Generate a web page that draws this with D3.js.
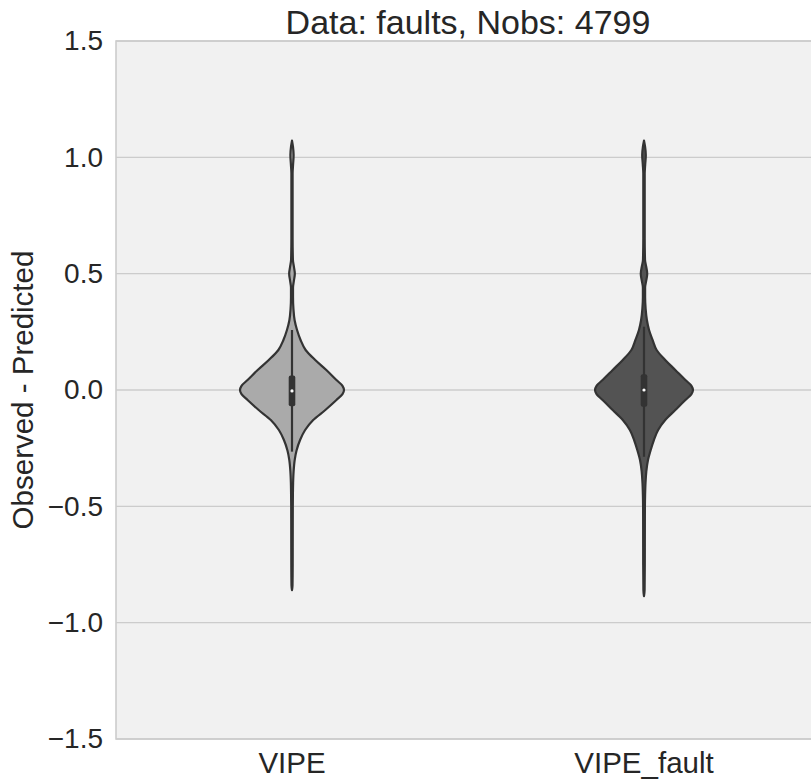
<!DOCTYPE html>
<html>
<head>
  <meta charset="utf-8" />
  <title>Violin plot: faults</title>
  <script src="https://cdn.jsdelivr.net/npm/d3@7/dist/d3.min.js"></script>
  <style>
    body { margin: 0; background: #ffffff; }
    text { font-family: "Liberation Sans", Arial, sans-serif; fill: #262626; }
  </style>
</head>
<body>
  <svg id="chart" width="811" height="782"></svg>

  <script>
    // categories and their fill colours
    const categories = ["VIPE", "VIPE_fault"];
    const fills = ["#aaaaaa", "#535353"];

    const yTicks = [-1.5, -1.0, -0.5, 0.0, 0.5, 1.0, 1.5];
    const titleText = "Data: faults, Nobs: 4799";
    const yLabel = "Observed - Predicted";

    // kernel density profile (value, relative density)
    const vipeValues = [-0.86, -0.84, -0.75, -0.6, -0.5, -0.45, -0.4, -0.35, -0.3, -0.26,
      -0.215, -0.172, -0.129, -0.086, -0.043, -0.018, 0, 0.018, 0.043, 0.086, 0.129, 0.172, 0.215,
      0.258, 0.3, 0.35, 0.4, 0.44, 0.47, 0.5, 0.53, 0.56, 0.65, 0.8, 0.93, 0.97, 1.01,
      1.045, 1.072];
    const vipeDensity = [0, 0.5, 0.7, 0.75, 0.8, 0.9, 1.1, 1.6, 2.7, 4.5,
      8, 13, 21, 33, 44, 50, 51.5, 50, 44, 34, 23, 13.5, 8.5,
      5, 2.6, 1.4, 1.0, 1.0, 1.9, 2.8, 1.9, 0.9, 0.6, 0.6, 0.6, 1.1, 1.6,
      1.0, 0];

    const faultValues = [-0.886, -0.86, -0.75, -0.6, -0.5, -0.45, -0.4, -0.35, -0.3, -0.26,
      -0.215, -0.172, -0.129, -0.086, -0.043, -0.018, 0, 0.018, 0.043, 0.086, 0.129, 0.172, 0.215,
      0.258, 0.3, 0.35, 0.4, 0.44, 0.47, 0.5, 0.53, 0.56, 0.65, 0.8, 0.93, 0.97, 1.01,
      1.045, 1.072];
    const faultDensity = [0, 0.6, 0.8, 0.85, 0.9, 1.1, 1.5, 2.3, 4.0, 6.5,
      9.8, 14, 21, 31, 41, 47, 48.5, 47, 41, 31, 21, 12.5, 8.5,
      5, 2.9, 1.6, 1.1, 1.1, 2.2, 3.2, 2.2, 1.0, 0.7, 0.7, 0.7, 1.2, 1.8,
      1.1, 0];

    // box summaries: [lower whisker, q1, median, q3, upper whisker]
    const vipeBox = [-0.265, -0.07, -0.004, 0.062, 0.258];
    const faultBox = [-0.287, -0.072, 0.0, 0.068, 0.272];

    const profiles = [
      { name: categories[0], values: vipeValues, density: vipeDensity, box: vipeBox, fill: fills[0] },
      { name: categories[1], values: faultValues, density: faultDensity, box: faultBox, fill: fills[1] },
    ];

    const margin = { top: 41, right: -9, bottom: 43, left: 116 };
    const W = 811, H = 782;
    const width = W - margin.left - margin.right;
    const height = H - margin.top - margin.bottom;

    const svg = d3.select("svg#chart");
    const g = svg.append("g")
      .attr("transform", "translate(" + margin.left + "," + margin.top + ")");

    const x = d3.scaleBand().domain(categories).range([0, width]);
    const y = d3.scaleLinear().domain([-1.5, 1.5]).range([height, 0]);
    const w = d3.scaleLinear().domain([0, 51.5]).range([0, 52]);

    // background
    g.append("rect")
      .attr("width", width)
      .attr("height", height)
      .attr("fill", "#f1f1f1");

    // horizontal grid
    g.append("g")
      .selectAll("line")
      .data(yTicks)
      .enter()
      .append("line")
      .attr("x1", 0)
      .attr("x2", width)
      .attr("y1", (d) => y(d))
      .attr("y2", (d) => y(d))
      .attr("stroke", "#cccccc")
      .attr("stroke-width", 1.4);

    // spines (left, top, bottom)
    g.append("path")
      .attr("d", "M" + width + ",0H0V" + height + "H" + width)
      .attr("fill", "none")
      .attr("stroke", "#cccccc")
      .attr("stroke-width", 1.6);

    // y axis labels
    const yAxis = g.append("g")
      .call(d3.axisLeft(y).tickValues(yTicks).tickSize(0).tickPadding(13)
        .tickFormat((d) => d3.format(".1f")(d).replace("-", "\u2212")));
    yAxis.select(".domain").remove();
    yAxis.selectAll("text").style("font-size", "28px").attr("fill", "#262626");

    // x axis labels
    const xAxis = g.append("g")
      .attr("transform", "translate(0," + height + ")")
      .call(d3.axisBottom(x).tickSize(0).tickPadding(13));
    xAxis.select(".domain").remove();
    xAxis.selectAll("text").style("font-size", "29.5px").attr("fill", "#262626");

    // violins
    profiles.forEach((p) => {
      const cx = x(p.name) + x.bandwidth() / 2;
      const pts = p.values.map((v, i) => ({ v: v, d: p.density[i] }));
      const area = d3.area()
        .curve(d3.curveMonotoneY)
        .y((d) => y(d.v))
        .x0((d) => cx - w(d.d))
        .x1((d) => cx + w(d.d));

      g.append("path")
        .datum(pts)
        .attr("d", area)
        .attr("fill", p.fill)
        .attr("stroke", "#333333")
        .attr("stroke-width", 2.2)
        .attr("stroke-linejoin", "round");

      // whiskers
      g.append("line")
        .attr("x1", cx).attr("x2", cx)
        .attr("y1", y(p.box[0])).attr("y2", y(p.box[4]))
        .attr("stroke", "#333333")
        .attr("stroke-width", 2.2);

      // box
      g.append("rect")
        .attr("x", cx - 3.3)
        .attr("width", 6.6)
        .attr("y", y(p.box[3]))
        .attr("height", y(p.box[1]) - y(p.box[3]))
        .attr("rx", 2)
        .attr("fill", "#333333");

      // median
      g.append("circle")
        .attr("cx", cx)
        .attr("cy", y(p.box[2]))
        .attr("r", 1.6)
        .attr("fill", "#ffffff");
    });

    // title
    svg.append("text")
      .attr("x", margin.left + width / 2)
      .attr("y", 34)
      .attr("text-anchor", "middle")
      .style("font-size", "34px")
      .text(titleText);

    // y label
    svg.append("text")
      .attr("transform", "translate(33," + (margin.top + height / 2) + ")rotate(-90)")
      .attr("text-anchor", "middle")
      .style("font-size", "29.5px")
      .text(yLabel);
  </script>
</body>
</html>
